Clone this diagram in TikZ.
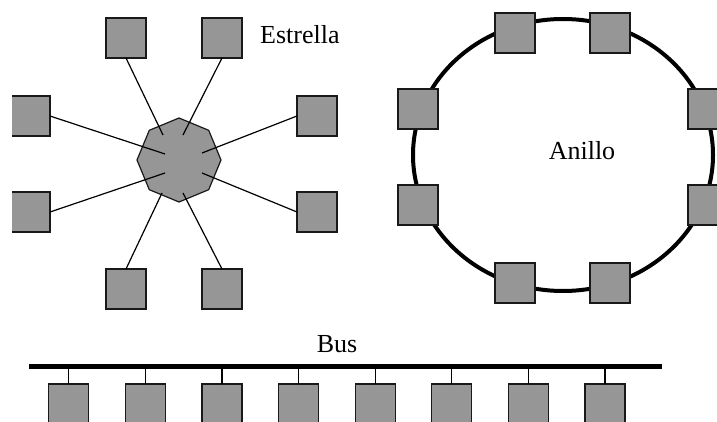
\documentclass[tikz,border=0pt]{standalone}
\usepackage{fontspec}
\setmainfont{Liberation Serif}
\usetikzlibrary{shapes.geometric}
\definecolor{boxgray}{RGB}{150,150,150}
\begin{document}
\begin{tikzpicture}[x=1pt,y=-1pt,
  pc/.style={draw=black!90, fill=boxgray, line width=1.2pt, minimum size=40pt, inner sep=0pt, outer sep=0pt},
  hub/.style={regular polygon, regular polygon sides=8, shape border rotate=22.5, draw=black!90, fill=boxgray, line width=1.2pt, minimum size=84pt, inner sep=0pt},
  link/.style={line width=1.2pt},
  ring/.style={line width=4pt},
  busline/.style={line width=5pt},
  lbl/.style={font=\fontsize{26}{30}\selectfont, inner sep=0pt}]
\useasboundingbox (0,0) rectangle (717,422);
\begin{scope}
\clip (12,0) rectangle (717,422);
% ---------- Star ----------
\node[hub] (hub) at (179,160) {};
\node[pc] (s1) at (126,38) {};
\node[pc] (s2) at (222,38) {};
\node[pc] (s3) at (30,116) {};
\node[pc] (s4) at (30,212) {};
\node[pc] (s5) at (317,116) {};
\node[pc] (s6) at (317,212) {};
\node[pc] (s7) at (126,289) {};
\node[pc] (s8) at (222,289) {};
\coordinate (h1) at (163,135);
\coordinate (h2) at (183,135);
\coordinate (h3) at (165,154);
\coordinate (h4) at (165,173);
\coordinate (h5) at (202,153);
\coordinate (h6) at (202,173);
\coordinate (h7) at (162,193);
\coordinate (h8) at (183,193);
\draw[link] (s1.south) -- (h1);
\draw[link] (s2.south) -- (h2);
\draw[link] (s3.east) -- (h3);
\draw[link] (s4.east) -- (h4);
\draw[link] (s5.west) -- (h5);
\draw[link] (s6.west) -- (h6);
\draw[link] (s7.north) -- (h7);
\draw[link] (s8.north) -- (h8);
% ---------- Ring ----------
\coordinate (rc) at (563,155);
\draw[ring] (rc) ellipse [x radius=150, y radius=136];
\node[pc] (r1) at (515,33) {};
\node[pc] (r2) at (610,33) {};
\node[pc] (r3) at (418,109) {};
\node[pc] (r4) at (418,205) {};
\node[pc] (r5) at (708,109) {};
\node[pc] (r6) at (708,205) {};
\node[pc] (r7) at (515,283) {};
\node[pc] (r8) at (610,283) {};
% ---------- Bus ----------
\coordinate (busL) at (29,366.5);
\coordinate (busR) at (662,366.5);
\draw[busline] (busL) -- (busR);
\foreach \i in {1,...,8} {
  \node[pc] (b\i) at ({68.7+76.6*(\i-1)},404) {};
  \draw[link] (b\i.north) -- (b\i.north |- busL);
}
\end{scope}
\node[lbl, anchor=base west] (estrella) at (260,44) {Estrella};
\node[lbl, anchor=base] (anillo) at (582,160) {Anillo};
\node[lbl, anchor=base] (bus) at (337,352) {Bus};
\end{tikzpicture}
\end{document}
